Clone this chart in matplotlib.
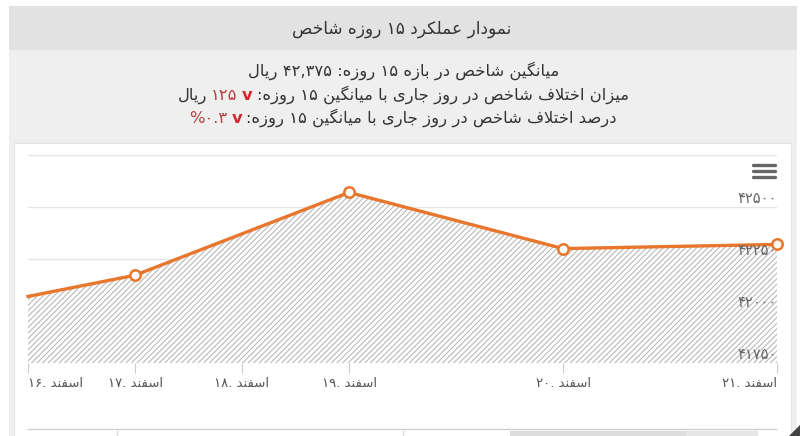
import matplotlib
matplotlib.use("Agg")
import matplotlib.pyplot as plt
import matplotlib.transforms as mtransforms
from matplotlib.patches import Rectangle, Polygon
from matplotlib.offsetbox import TextArea, HPacker, AnnotationBbox

plt.rcParams["font.family"] = ["DejaVu Sans"]
plt.rcParams["hatch.linewidth"] = 0.8

# داده‌ها
TITLE = "نمودار عملکرد ۱۵ روزه شاخص"
AVG_LABEL = "میانگین شاخص در بازه ۱۵ روزه:"
AVG_VALUE = "۴۲,۳۷۵"
UNIT = "ریال"
DIFF_LABEL = "میزان اختلاف شاخص در روز جاری با میانگین ۱۵ روزه:"
DIFF_VALUE = "۱۲۵"
PCT_LABEL = "درصد اختلاف شاخص در روز جاری با میانگین ۱۵ روزه:"
PCT_VALUE = "%۰.۳"
MONTH = "اسفند"

tick_pos = [0, 1, 2, 3, 5, 7]
tick_days = ["۱۶", "۱۷", "۱۸", "۱۹", "۲۰", "۲۱"]
x_vals = [0, 1, 3, 5, 7]
y_vals = [42070, 42172, 42570, 42300, 42320]
y_grid = [42000, 42250, 42500, 42750]
y_labels = [41750, 42000, 42250, 42500]
y_min, y_max = 41750, 42750

ORANGE = "#e8762d"
DARK = "#333333"
RED_TXT = "#b5413f"
RED_ICON = "#d9262d"
TXT_SIZE = 11.8

# شکل حروف: جدا، پایانی، آغازی، میانی
FORMS = {
    "ا": ("\uFE8D", "\uFE8E", None, None),
    "ب": ("\uFE8F", "\uFE90", "\uFE91", "\uFE92"),
    "ت": ("\uFE95", "\uFE96", "\uFE97", "\uFE98"),
    "ج": ("\uFE9D", "\uFE9E", "\uFE9F", "\uFEA0"),
    "خ": ("\uFEA5", "\uFEA6", "\uFEA7", "\uFEA8"),
    "د": ("\uFEA9", "\uFEAA", None, None),
    "ر": ("\uFEAD", "\uFEAE", None, None),
    "ز": ("\uFEAF", "\uFEB0", None, None),
    "س": ("\uFEB1", "\uFEB2", "\uFEB3", "\uFEB4"),
    "ش": ("\uFEB5", "\uFEB6", "\uFEB7", "\uFEB8"),
    "ص": ("\uFEB9", "\uFEBA", "\uFEBB", "\uFEBC"),
    "ع": ("\uFEC9", "\uFECA", "\uFECB", "\uFECC"),
    "ف": ("\uFED1", "\uFED2", "\uFED3", "\uFED4"),
    "ل": ("\uFEDD", "\uFEDE", "\uFEDF", "\uFEE0"),
    "م": ("\uFEE1", "\uFEE2", "\uFEE3", "\uFEE4"),
    "ن": ("\uFEE5", "\uFEE6", "\uFEE7", "\uFEE8"),
    "ه": ("\uFEE9", "\uFEEA", "\uFEEB", "\uFEEC"),
    "و": ("\uFEED", "\uFEEE", None, None),
    "ک": ("\uFB8E", "\uFB8F", "\uFB90", "\uFB91"),
    "گ": ("\uFB92", "\uFB93", "\uFB94", "\uFB95"),
    "ی": ("\uFBFC", "\uFBFD", "\uFBFE", "\uFBFF"),
}
LAM_ALEF = ("\uFEFB", "\uFEFC")


def joins_next(c):
    return c in FORMS and FORMS[c][2] is not None


def shape(word):
    out = []
    i, n = 0, len(word)
    while i < n:
        c = word[i]
        if c not in FORMS:
            out.append(c)
            i += 1
            continue
        prev_join = i > 0 and joins_next(word[i - 1])
        if c == "ل" and i + 1 < n and word[i + 1] == "ا":
            out.append(LAM_ALEF[1 if prev_join else 0])
            i += 2
            continue
        next_join = joins_next(c) and i + 1 < n and word[i + 1] in FORMS
        iso, fin, ini, med = FORMS[c]
        if prev_join and next_join:
            out.append(med)
        elif prev_join:
            out.append(fin)
        elif next_join:
            out.append(ini)
        else:
            out.append(iso)
        i += 1
    return "".join(out)


def rtl(text):
    # ترتیب نمایشی ساده برای متن راست به چپ
    words = []
    for w in reversed(text.split(" ")):
        if any(ch in FORMS for ch in w):
            core = w.rstrip(":")
            words.append(w[len(core):] + shape(core)[::-1])
        else:
            words.append(w)
    return " ".join(words)


def fa_num(n):
    return str(n).translate(str.maketrans("0123456789", "۰۱۲۳۴۵۶۷۸۹"))


fig = plt.figure(figsize=(8, 4.36), dpi=100)

# قاب صفحه (مختصات پیکسلی)
bg = fig.add_axes([0, 0, 1, 1])
bg.set_xlim(0, 800)
bg.set_ylim(436, 0)
bg.axis("off")
bg.add_patch(Rectangle((9, 6), 788, 430, color="#efefef", lw=0))
bg.add_patch(Rectangle((9, 6), 788, 44, color="#e2e2e2", lw=0))
bg.add_patch(Rectangle((14, 143), 777, 300, facecolor="white", edgecolor="#e4e4e4", lw=0.8))

bg.text(402, 29, rtl(TITLE), ha="center", va="center", fontsize=12.2, color=DARK)
bg.text(404, 71, rtl(UNIT) + " " + AVG_VALUE + " " + rtl(AVG_LABEL),
        ha="center", va="center", fontsize=TXT_SIZE, color=DARK)


def packed_line(parts, y):
    boxes = [TextArea(t, textprops=dict(color=c, fontsize=TXT_SIZE, fontweight=w))
             for t, c, w in parts]
    pack = HPacker(children=boxes, align="baseline", pad=0, sep=3)
    ab = AnnotationBbox(pack, (403, y), xycoords="data", frameon=False,
                        box_alignment=(0.5, 0.5), pad=0)
    bg.add_artist(ab)


packed_line([(rtl(UNIT), DARK, "normal"), (DIFF_VALUE, RED_TXT, "normal"),
             ("v", RED_ICON, "bold"), (rtl(DIFF_LABEL), DARK, "normal")], 95)
packed_line([(PCT_VALUE, RED_TXT, "normal"), ("v", RED_ICON, "bold"),
             (rtl(PCT_LABEL), DARK, "normal")], 118)

# منوی همبرگری
for yy in (165, 171, 177):
    bg.plot([753, 775], [yy, yy], color="#666666", lw=2.4, solid_capstyle="round")

# نوار پایین
bg.plot([28, 776], [429, 429], color="#cfcfcf", lw=1)
bg.add_patch(Rectangle((510, 431), 176, 6, color="#dddddd", lw=0))
bg.add_patch(Rectangle((686, 431), 72, 6, color="#e6e6e6", lw=0))
for xx in (117, 403):
    bg.plot([xx, xx], [431, 436], color="#dddddd", lw=1)
bg.add_patch(Polygon([[800, 425], [800, 436], [789, 436]], color="#444444", lw=0))

# نمودار
ax = fig.add_axes([28 / 800, (436 - 363) / 436, 749 / 800, 208 / 436])
ax.patch.set_alpha(0)
ax.set_zorder(2)
ax.set_xlim(0, 7)
ax.set_ylim(y_min, y_max)
for s in ax.spines.values():
    s.set_visible(False)

ax.set_yticks(y_grid)
ax.tick_params(axis="y", left=False, labelleft=False)
ax.grid(axis="y", color="#e6e6e6", lw=1)
ax.axhline(y_min, color="#d8d8d8", lw=1, zorder=1)

ax.fill_between(x_vals, y_vals, y_min, facecolor="white", edgecolor="#b8b8b8",
                hatch="//////", linewidth=0, zorder=2)
ax.plot(x_vals, y_vals, color=ORANGE, lw=2.4, zorder=3, clip_on=False)
ax.plot(x_vals[1:], y_vals[1:], ls="none", marker="o", ms=7.5, mfc="white",
        mec=ORANGE, mew=1.8, zorder=4, clip_on=False)

ax.set_xticks(tick_pos)
ax.set_xticklabels([rtl(MONTH + " " + d + ".") for d in tick_days],
                   fontsize=9.5, color="#555555")
ax.tick_params(axis="x", length=7, width=0.8, color="#cccccc", pad=3)
lbls = ax.get_xticklabels()
lbls[0].set_ha("left")
lbls[-1].set_ha("right")

trans = mtransforms.blended_transform_factory(ax.transAxes, ax.transData)
shift = mtransforms.ScaledTranslation(0, 1 / 72, fig.dpi_scale_trans)
for v in y_labels:
    ax.text(1.0, v, fa_num(v), transform=trans + shift,
            ha="right", va="bottom", fontsize=10.5, color="#666666", zorder=5)

fig.savefig("out.png", dpi=100)
